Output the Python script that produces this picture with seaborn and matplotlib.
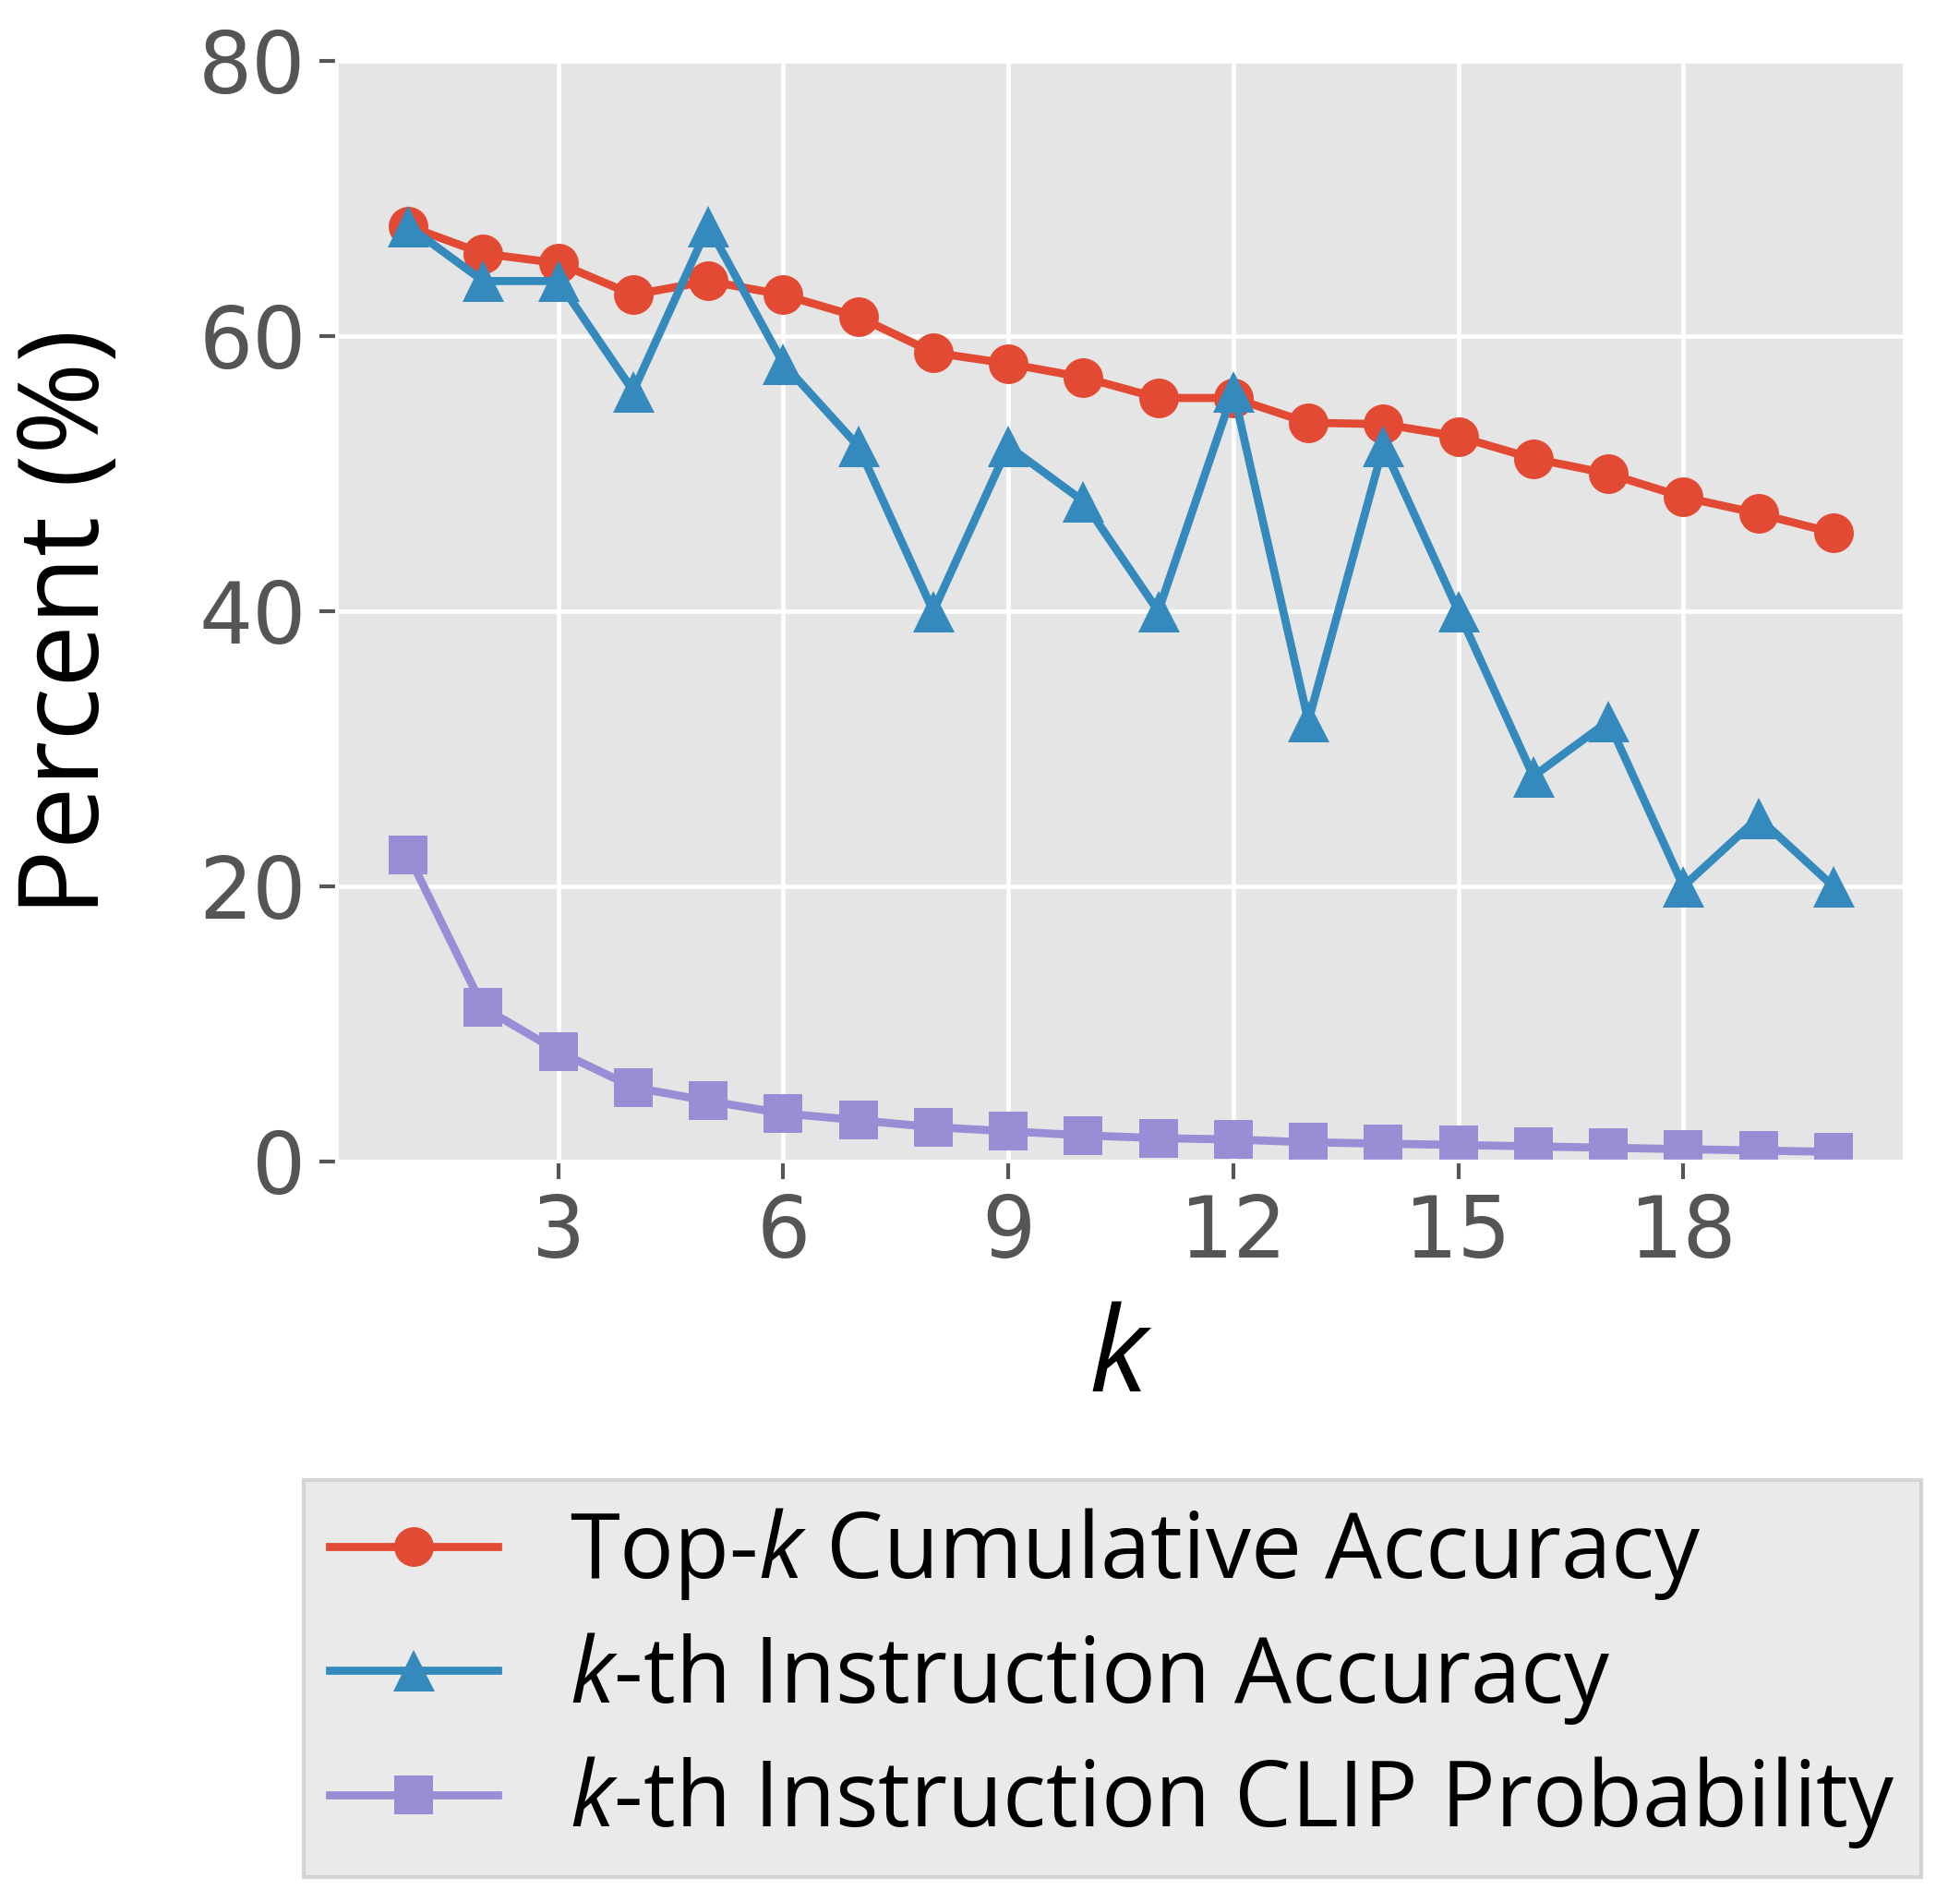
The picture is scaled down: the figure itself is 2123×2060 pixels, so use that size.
import matplotlib
matplotlib.use("Agg")
import matplotlib.pyplot as plt
import seaborn as sns
import pandas as pd

# ---- data ----
k_values = list(range(1, 21))
top_k_cumulative = [68.0, 66.0, 65.3, 63.0, 64.0, 63.0, 61.4, 58.8, 58.0, 57.0,
                    55.5, 55.5, 53.7, 53.6, 52.7, 51.1, 50.0, 48.3, 47.1, 45.7]
kth_accuracy = [68, 64, 64, 56, 68, 58, 52, 40, 52, 48,
                40, 56, 32, 52, 40, 28, 32, 20, 25, 20]
kth_clip_prob = [22.3, 11.2, 8.0, 5.4, 4.4, 3.5, 3.0, 2.5, 2.2, 1.9,
                 1.7, 1.6, 1.4, 1.3, 1.2, 1.1, 1.0, 0.9, 0.8, 0.7]
series_labels = ["Top-$k$ Cumulative Accuracy",
                 "$k$-th Instruction Accuracy",
                 "$k$-th Instruction CLIP Probability"]
x_ticks = [3, 6, 9, 12, 15, 18]
y_ticks = [0, 20, 40, 60, 80]

# ---- style ----
plt.style.use("ggplot")
plt.rcParams["font.family"] = ["Open Sans", "DejaVu Sans"]
plt.rcParams["mathtext.fontset"] = "custom"
plt.rcParams["mathtext.rm"] = "Open Sans"
plt.rcParams["mathtext.it"] = "Open Sans:italic"
plt.rcParams["grid.linewidth"] = 1.1

colors = ["#E24A33", "#348ABD", "#988ED5"]
markers = ["o", "^", "s"]
msizes = [10.3, 10.8, 10.3]

DPI = 300
fig = plt.figure(figsize=(2123 / DPI, 2060 / DPI), dpi=DPI)
ax = fig.add_axes([365 / 2123, 1 - 1258 / 2060, (2063 - 365) / 2123, (1258 - 66) / 2060])

df = pd.DataFrame({"k": k_values, "top": top_k_cumulative,
                   "acc": kth_accuracy, "clip": kth_clip_prob})
for col, c, m, ms, lab in zip(["top", "acc", "clip"], colors, markers, msizes, series_labels):
    sns.lineplot(data=df, x="k", y=col, ax=ax, color=c, marker=m, markersize=ms,
                 linewidth=2.1, markeredgewidth=0, label=lab)

ax.set_ylim(0, 80)
ax.set_xlim(0.05, 20.95)
ax.set_xticks(x_ticks)
ax.set_yticks(y_ticks)
ax.tick_params(axis="both", colors="#555555", labelsize=22, length=4.5, width=1.0)
for t in ax.get_xticklabels() + ax.get_yticklabels():
    t.set_fontfamily("DejaVu Sans")

ax.set_xlabel("$k$", fontsize=31, color="black")
ax.set_ylabel("Percent (%)", fontsize=29, color="black")
ax.xaxis.set_label_coords(0.5, -0.127)
ax.yaxis.set_label_coords(-0.135, 0.49)

leg = ax.legend(loc="upper left", bbox_to_anchor=(329 / 2123, 1 - 1603 / 2060),
                bbox_transform=fig.transFigure, borderaxespad=0, fontsize=23.5,
                frameon=True, fancybox=False, framealpha=0.8,
                handlelength=1.85, labelspacing=0.31, borderpad=0.29,
                handletextpad=0.8)
leg.get_frame().set_edgecolor("#CCCCCC")
leg.get_frame().set_linewidth(1.0)
for t in leg.get_texts():
    t.set_color("black")

fig.savefig("out.png", dpi=DPI)
